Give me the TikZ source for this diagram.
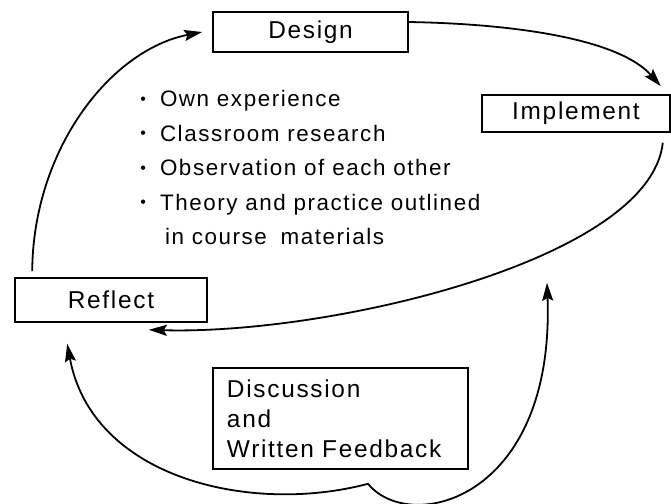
\documentclass[tikz,border=0pt]{standalone}
\usepackage{fontspec}
\setmainfont[LetterSpace=7]{Liberation Sans}
\usepackage{tikz}
\usetikzlibrary{arrows.meta}
\usetikzlibrary{calc}
\usetikzlibrary{positioning}
\newcommand{\dotitem}{\raisebox{1.1pt}{\footnotesize\textbullet}}

\begin{document}
\begin{tikzpicture}[x=0.5pt,y=0.5pt,line width=0.9pt,>={Stealth[length=9pt,width=5.5pt,inset=1.5pt]}]
 \tikzstyle{stage}=[draw, rectangle, line width=0.8pt, inner sep=0pt, minimum height=20pt, font=\fontsize{12.2}{14}\selectfont]
 \useasboundingbox (0,0) rectangle (671,-504);
 \node[stage, minimum width=97.5pt] (design) at (310.5,-32) {Design};
 \node[stage, minimum width=94pt, minimum height=18.5pt] (implement) at (576,-113.5) {Implement};
 \node[stage, minimum width=96pt, minimum height=22pt] (reflect) at (111,-300) {Reflect};
 \node[stage, minimum width=127.5pt, minimum height=50.5pt, text width=113.5pt, inner xsep=7pt, align=left,
       font=\fontsize{12.2}{15}\selectfont] (feedback) at (340.5,-418.5) {Discussion\\and\\Written Feedback};
 \node[anchor=west, inner sep=0pt, align=left, font=\fontsize{11.2}{17.25}\selectfont] (ideas) at (139.5,-167.5)
   {\dotitem\hspace{7pt}Own experience\\
    \dotitem\hspace{7pt}Classroom research\\
    \dotitem\hspace{7pt}Observation of each other\\
    \dotitem\hspace{7pt}Theory and practice outlined\\
    \phantom{\dotitem}\hspace{9.5pt}in course\hspace{3pt} materials};
 % free ends of the cycle arrows
 \coordinate (d1) at ($(design.east)+(0,10)$);
 \coordinate (i1) at ($(implement.north east)+(-10,8)$);
 \coordinate (i2) at ($(implement.south east)+(-8,-10)$);
 \coordinate (r1) at ($(reflect.south east)+(-59,-7)$);
 \coordinate (r2) at ($(reflect.north west)+(18,6)$);
 \coordinate (d2) at ($(design.west)+(-10,0)$);
 \coordinate (r3) at ($(reflect.south west)+(53,-21)$);
 \coordinate (fb) at ($(feedback.south)+(27.5,-14)$);
 \coordinate (i3) at ($(implement.south)+(-29,-150)$);
 \draw[->] (d1) .. controls (520,-24) and (620,-40) .. (i1);
 \draw[->] (i2) .. controls (650,-260) and (330,-335) .. (r1);
 \draw[->] (r2) .. controls (33,-150) and (110,-50) .. (d2);
 \draw[<->] (r3) .. controls (92,-478) and (250,-515) .. (fb)
                 .. controls (410,-535) and (555,-500) .. (i3);
\end{tikzpicture}
\end{document}
